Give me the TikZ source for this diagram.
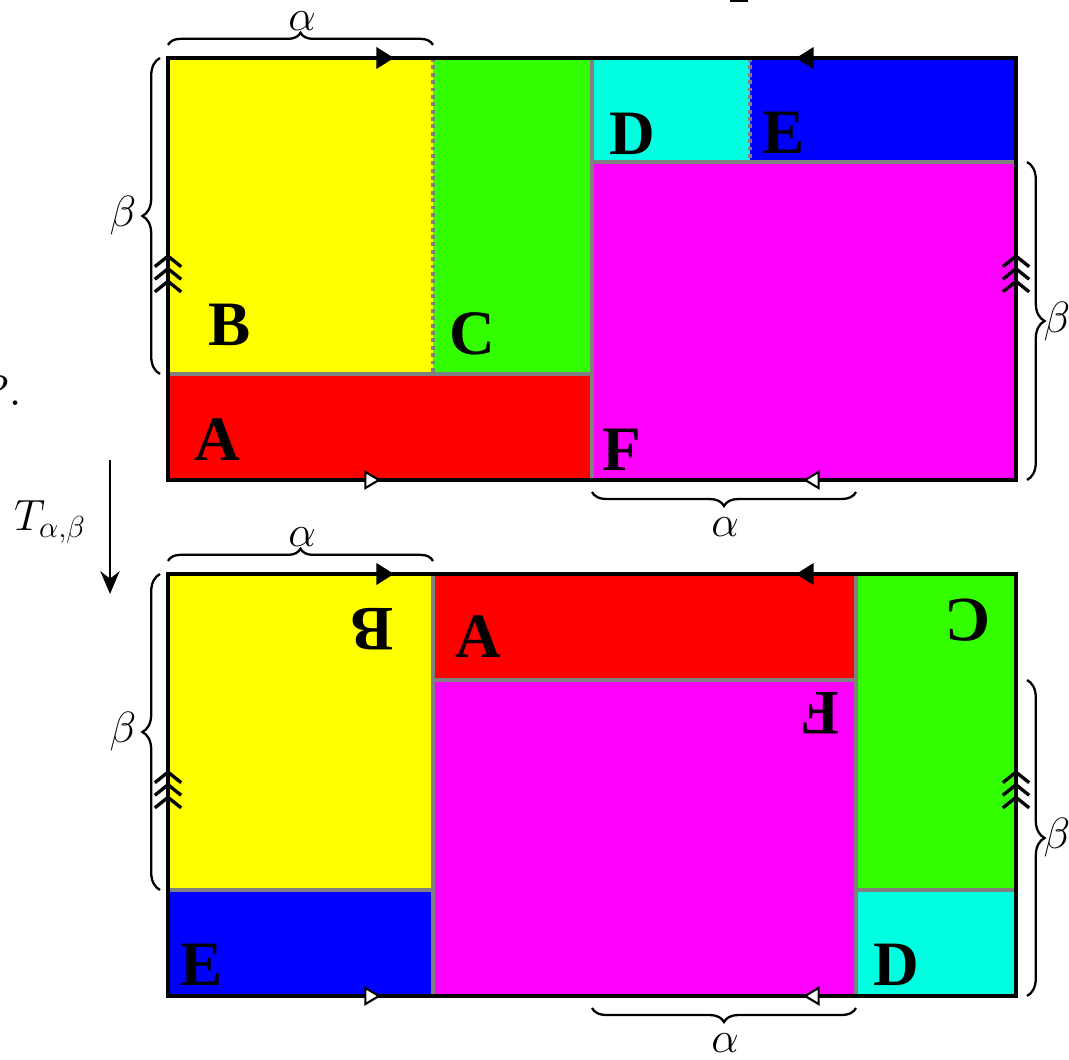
\documentclass[tikz,border=0pt]{standalone}
\usepackage{fontspec}
\usetikzlibrary{arrows.meta,decorations.pathreplacing}
\newfontfamily\piecefont{Liberation Serif}
\definecolor{pyellow}{HTML}{FFFF00}
\definecolor{pgreen}{HTML}{33FF00}
\definecolor{pcyan}{HTML}{00FFE0}
\definecolor{pblue}{HTML}{0000FF}
\definecolor{pmagenta}{HTML}{FF00FF}
\definecolor{pred}{HTML}{FF0000}
\definecolor{cutgray}{HTML}{808080}
\tikzset{
  piece/.style={font=\fontsize{36}{40}\selectfont\piecefont\bfseries, inner sep=0pt},
  lbl/.style={font=\fontsize{27}{31}\selectfont, inner sep=0pt},
  cut/.style={cutgray, line width=2.4pt},
  fold/.style={cutgray, line width=2pt, dash pattern=on 2.2pt off 2pt},
  rim/.style={line width=1.9pt},
  bracex/.style={decorate, decoration={brace, amplitude=#1}, line width=1.3pt},
  fwd/.style={rim, -{Triangle[length=10pt, width=12pt]}},
  back/.style={line width=1.2pt, -{Triangle[open, fill=white, length=9.5pt, width=11pt]}},
  glue/.style={rim, -{Straight Barb[length=6pt, width=15pt, sep=-1pt]
                     Straight Barb[length=6pt, width=15pt, sep=-1pt]
                     Straight Barb[length=6pt, width=15pt]}},
}
\begin{document}
\begin{tikzpicture}[x=0.02cm, y=-0.02cm]
  \useasboundingbox (0,0) rectangle (1069,1060);

  % top: the six pieces
  \fill[pyellow]  (168,58)  rectangle (433,374);
  \fill[pgreen]   (433,58)  rectangle (592,374);
  \fill[pred]     (168,374) rectangle (592,480);
  \fill[pcyan]    (592,58)  rectangle (750,162);
  \fill[pblue]    (750,58)  rectangle (1016,162);
  \fill[pmagenta] (592,162) rectangle (1016,480);
  \draw[fold] (433,58) -- (433,374);
  \draw[fold] (750,58) -- (750,162);
  \draw[cut] (168,374) -- (592,374);
  \draw[cut] (592,58) -- (592,480);
  \draw[cut] (592,162) -- (1016,162);
  \node[piece] (topB) at (230,325) {B};
  \node[piece] (topC) at (472,334) {C};
  \node[piece] (topA) at (217,440) {A};
  \node[piece] (topD) at (632,134) {D};
  \node[piece] (topE) at (784,133) {E};
  \node[piece] (topF) at (622,450) {F};

  % bottom: after the map
  \fill[pyellow]  (168,574) rectangle (433,890);
  \fill[pblue]    (168,890) rectangle (433,996);
  \fill[pred]     (433,574) rectangle (856,680);
  \fill[pmagenta] (433,680) rectangle (856,996);
  \fill[pgreen]   (856,574) rectangle (1016,890);
  \fill[pcyan]    (856,890) rectangle (1016,996);
  \draw[cut] (433,574) -- (433,996);
  \draw[cut] (433,680) -- (856,680);
  \draw[cut] (856,574) -- (856,996);
  \draw[cut] (168,890) -- (433,890);
  \draw[cut] (856,890) -- (1016,890);
  \node[piece, rotate=180] (botB) at (372,629) {B};
  \node[piece] (botA) at (478,637) {A};
  \node[piece, rotate=180] (botC) at (968,620) {C};
  \node[piece, rotate=180] (botF) at (820,713) {F};
  \node[piece] (botE) at (202,965) {E};
  \node[piece] (botD) at (896,965) {D};

  % frame, gluing marks and braces for both
  \foreach \y in {0,516} {
    \draw[rim] (168,58+\y) rectangle (1016,480+\y);
    \draw[fwd] (370,58+\y) -- (394,58+\y);
    \draw[fwd] (820,58+\y) -- (796,58+\y);
    \draw[back] (355,480+\y) -- (381,480+\y);
    \draw[back] (830,480+\y) -- (803,480+\y);
    \draw[glue] (168,297+\y) -- (168,254+\y);
    \draw[glue] (1016,297+\y) -- (1016,254+\y);
    \draw[bracex=7pt] (168,45+\y) -- (433,45+\y);
    \node[lbl] at (302,21+\y) {$\alpha$};
    \draw[bracex=8pt] (856,492+\y) -- (592,492+\y);
    \node[lbl] at (725,527+\y) {$\alpha$};
    \draw[bracex=10pt] (160,374+\y) -- (160,58+\y);
    \node[lbl] at (123,216+\y) {$\beta$};
  }
  \draw[bracex=10pt] (1027,162) -- (1027,480);
  \node[lbl] (betaR1) at (1057,322) {$\beta$};
  \draw[bracex=10pt] (1027,680) -- (1027,996);
  \node[lbl] (betaR2) at (1057,838) {$\beta$};

  % the map
  \coordinate (Tsrc) at (110,460);
  \coordinate (Tdst) at (110,594);
  \draw[line width=1.1pt, -{Stealth[length=13pt, width=11pt]}] (Tsrc) -- (Tdst);
  \node[lbl] (Tlbl) at (50,522) {$T_{\alpha,\beta}$};

  % cut off at the edges
  \node[lbl, font=\fontsize{32}{36}\selectfont, anchor=base east] (Pdot) at (23,406) {$P$.};
  \fill (730,-3) rectangle (748,2);
\end{tikzpicture}
\end{document}
